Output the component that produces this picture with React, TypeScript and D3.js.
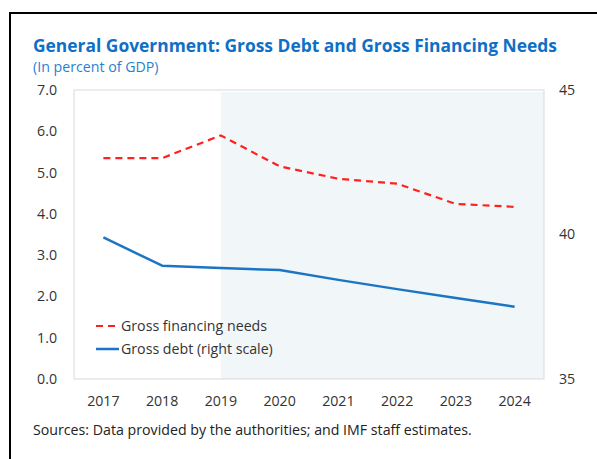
import React from "react";
import * as d3 from "d3";

const years = ["2017", "2018", "2019", "2020", "2021", "2022", "2023", "2024"];
const financingNeeds = [5.35, 5.35, 5.9, 5.15, 4.85, 4.73, 4.24, 4.17];
const grossDebt = [39.9, 38.92, 38.84, 38.77, 38.43, 38.11, 37.8, 37.5];
const leftTicks = [0, 1, 2, 3, 4, 5, 6, 7];
const rightTicks = [35, 40, 45];
const projectionStart = "2019";

const W = 597;
const H = 459;
const M = { left: 74, right: 544, top: 90, bottom: 379 };
const FONT = "'Open Sans', 'Noto Sans', sans-serif";
const FS = 14.2;

export default function App() {
  const x = d3.scaleBand<string>().domain(years).range([M.left, M.right]);
  const cx = (y: string) => (x(y) as number) + x.bandwidth() / 2;
  const yL = d3.scaleLinear().domain([0, 7]).range([M.bottom, M.top]);
  const yR = d3.scaleLinear().domain([35, 45]).range([M.bottom, M.top]);

  const lineL = d3
    .line<number>()
    .x((_, i) => cx(years[i]))
    .y((d) => yL(d));
  const lineR = d3
    .line<number>()
    .x((_, i) => cx(years[i]))
    .y((d) => yR(d));

  const shadeX = cx(projectionStart);

  return (
    <svg width={W} height={H} style={{ position: "absolute", left: 0, top: 0 }}>
      <rect x={0} y={0} width={W} height={H} fill="#fff" />
      {/* frame */}
      <line x1={9} x2={W} y1={13} y2={13} stroke="#000" strokeWidth={2} />
      <line x1={10} x2={10} y1={12} y2={H} stroke="#000" strokeWidth={2} />

      <text x={33} y={52} fill="#0f6fc6" fontFamily={FONT} fontWeight={700} fontSize={17.4}>
        General Government: Gross Debt and Gross Financing Needs
      </text>
      <text x={33} y={72} fill="#2a7fd0" fontFamily={FONT} fontSize={14.2}>
        (In percent of GDP)
      </text>

      {/* plot area */}
      <rect x={shadeX} y={M.top + 2} width={M.right - shadeX} height={M.bottom - M.top - 2} fill="#f1f6f9" />
      <rect
        x={M.left}
        y={M.top}
        width={M.right - M.left}
        height={M.bottom - M.top}
        fill="none"
        stroke="#d9d9d9"
        strokeWidth={1}
      />

      {leftTicks.map((t) => (
        <text
          key={"l" + t}
          x={57}
          y={yL(t)}
          dy="0.35em"
          textAnchor="end"
          fontFamily={FONT}
          fontSize={FS}
          fill="#333"
        >
          {t.toFixed(1)}
        </text>
      ))}
      {rightTicks.map((t) => (
        <text
          key={"r" + t}
          x={559}
          y={yR(t)}
          dy="0.35em"
          fontFamily={FONT}
          fontSize={FS}
          fill="#333"
        >
          {t}
        </text>
      ))}
      {years.map((yr) => (
        <text
          key={yr}
          x={cx(yr)}
          y={401}
          dy="0.35em"
          textAnchor="middle"
          fontFamily={FONT}
          fontSize={FS}
          fill="#333"
        >
          {yr}
        </text>
      ))}

      <path
        d={lineL(financingNeeds) || ""}
        fill="none"
        stroke="#ff2020"
        strokeWidth={2.2}
        strokeDasharray="7,5"
        strokeLinejoin="round"
      />
      <path d={lineR(grossDebt) || ""} fill="none" stroke="#1b75c4" strokeWidth={2.5} strokeLinejoin="round" />

      {/* legend */}
      <line x1={96} x2={118} y1={326} y2={326} stroke="#ff2020" strokeWidth={2.2} strokeDasharray="7,5" />
      <text x={121} y={326} dy="0.35em" fontFamily={FONT} fontSize={FS} fill="#333">
        Gross financing needs
      </text>
      <line x1={96} x2={119} y1={349} y2={349} stroke="#1b75c4" strokeWidth={2.5} />
      <text x={121} y={349} dy="0.35em" fontFamily={FONT} fontSize={FS} fill="#333">
        Gross debt (right scale)
      </text>

      <text x={33} y={430} dy="0.35em" fontFamily={FONT} fontSize={FS} fill="#222">
        Sources: Data provided by the authorities; and IMF staff estimates.
      </text>
    </svg>
  );
}
